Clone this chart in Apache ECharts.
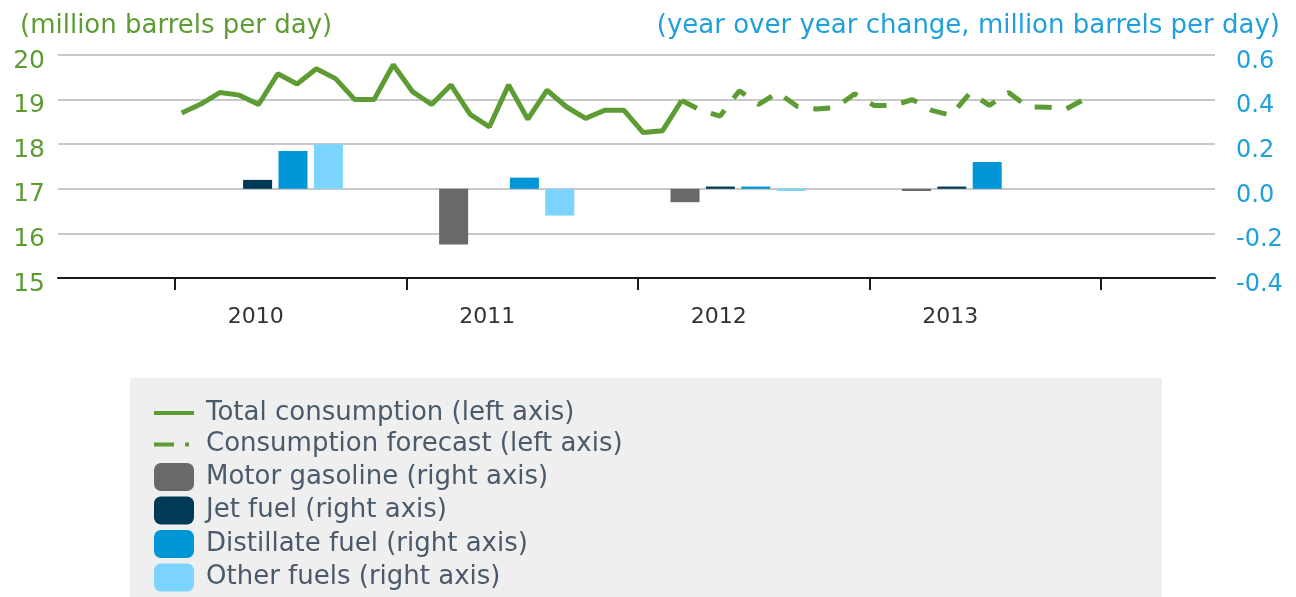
<!DOCTYPE html>
<html><head><meta charset="utf-8">
<script src="https://cdn.jsdelivr.net/npm/echarts@6/dist/echarts.min.js"></script>
<style>html,body{margin:0;padding:0;background:#fff}#c{width:1296px;height:597px}</style>
</head><body><div id="c"></div>
<script>
// ---- data ----
const years = ['2010', '2011', '2012', '2013'];
// monthly categories Jul 2009 .. Jun 2014 (axis span)
const monthCats = [];
for (let y = 2009; y <= 2014; y++) {
  for (let m = 1; m <= 12; m++) {
    if ((y === 2009 && m < 7) || (y === 2014 && m > 6)) continue;
    monthCats.push(y + '-' + String(m).padStart(2, '0'));
  }
}
// Total consumption, Jan 2010 - Mar 2012 (million b/d)
const totalConsumption = [18.70, 18.90, 19.16, 19.10, 18.89, 19.58, 19.35, 19.69, 19.47, 19.00, 19.00, 19.78,
  19.18, 18.89, 19.33, 18.67, 18.39, 19.33, 18.56, 19.21, 18.84, 18.58, 18.76, 18.76,
  18.26, 18.30, 18.98];
const totalStart = '2010-01';
// Consumption forecast, Mar 2012 - Dec 2013
const consumptionForecast = [18.98, 18.76, 18.63, 19.20, 18.89, 19.16, 18.85, 18.79, 18.82, 19.13,
  18.87, 18.87, 19.00, 18.76, 18.65, 19.15, 18.87, 19.16, 18.84, 18.83, 18.79, 19.02];
const forecastStart = '2012-03';
// Year-over-year change (million b/d)
const motorGasoline = [0, -0.25, -0.06, -0.01];
const jetFuel = [0.04, 0, 0.01, 0.01];
const distillateFuel = [0.17, 0.05, 0.01, 0.12];
const otherFuels = [0.20, -0.12, -0.01, 0];
const leftTicks = {min: 15, max: 20, interval: 1};
const rightTicks = {min: -0.4, max: 0.6, interval: 0.2};

function alignToMonths(values, start) {
  const s = monthCats.indexOf(start);
  return monthCats.map((c, i) => (i >= s && i - s < values.length) ? values[i - s] : null);
}

const FONT = 'DejaVu Sans';
const GREEN = '#5d9c33';
const BLUE = '#1fa0dc';
const NAMES = ['Total consumption (left axis)', 'Consumption forecast (left axis)', 'Motor gasoline (right axis)',
  'Jet fuel (right axis)', 'Distillate fuel (right axis)', 'Other fuels (right axis)'];

const chart = echarts.init(document.getElementById('c'), null, {renderer: 'canvas'});
const barCommon = {type: 'bar', xAxisIndex: 2, yAxisIndex: 3, barWidth: 29, barGap: '22%'};
chart.setOption({
  animation: false,
  backgroundColor: '#ffffff',
  textStyle: {fontFamily: FONT},
  title: [
    {text: '(million barrels per day)', left: 20, top: 13, padding: 0,
      textStyle: {fontSize: 26, fontWeight: 'normal', color: GREEN, fontFamily: FONT}},
    {text: '(year over year change, million barrels per day)', right: 16, top: 13, padding: 0,
      textStyle: {fontSize: 26, fontWeight: 'normal', color: BLUE, fontFamily: FONT}}
  ],
  graphic: [{type: 'rect', left: 130, top: 378, z: -10, shape: {width: 1032, height: 219}, style: {fill: '#efefef'}}],
  legend: {
    orient: 'vertical', left: 152, top: 400, padding: 0,
    itemWidth: 40, itemHeight: 28, itemGap: 5.5,
    textStyle: {fontSize: 26, color: '#4a5a6b', fontFamily: FONT, padding: [0, 0, 0, 7]},
    data: [
      {name: NAMES[0], itemStyle: {opacity: 0}, lineStyle: {width: 4, color: GREEN}},
      {name: NAMES[1], itemStyle: {opacity: 0}, lineStyle: {width: 4, color: GREEN, type: [20, 11, 4, 20]}},
      NAMES[2], NAMES[3], NAMES[4], NAMES[5]
    ]
  },
  grid: [
    {left: 58, right: 81, top: 55, bottom: 319},
    {left: 56.7, right: 85.5, top: 55, bottom: 319},
    {left: 159.6, right: 210.8, top: 55, bottom: 319},
    {left: 175, right: 195, top: 55, bottom: 319}
  ],
  xAxis: [
    {gridIndex: 0, type: 'category', data: monthCats, boundaryGap: true,
      axisLine: {show: true, onZero: false, lineStyle: {color: '#1a1a1a', width: 2}},
      axisTick: {show: false}, axisLabel: {show: false}, splitLine: {show: false}},
    {gridIndex: 1, type: 'category', data: monthCats, show: false, axisLine: {onZero: false}},
    {gridIndex: 2, type: 'category', data: years, show: false, axisLine: {onZero: false}},
    {gridIndex: 3, type: 'category', data: years, boundaryGap: true,
      axisLine: {show: false, onZero: false},
      axisTick: {show: true, length: 12, lineStyle: {color: '#1a1a1a', width: 2}},
      axisLabel: {fontSize: 22, color: '#333333', margin: 28, padding: [0, 70, 0, 0], fontFamily: FONT}}
  ],
  yAxis: [
    {gridIndex: 0, type: 'value', position: 'left', min: leftTicks.min, max: leftTicks.max, interval: leftTicks.interval,
      axisLine: {show: false}, axisTick: {show: false},
      axisLabel: {fontSize: 25, color: GREEN, margin: 13, verticalAlign: 'top', lineHeight: 12, fontFamily: FONT},
      splitLine: {show: true, lineStyle: {color: '#c8c8c8', width: 2}}},
    {gridIndex: 0, type: 'value', position: 'right', min: rightTicks.min, max: rightTicks.max, interval: rightTicks.interval,
      axisLine: {show: false}, axisTick: {show: false},
      axisLabel: {fontSize: 24, color: BLUE, margin: 21, verticalAlign: 'top', lineHeight: 13, fontFamily: FONT,
        formatter: v => v.toFixed(1)},
      splitLine: {show: false}},
    {gridIndex: 1, type: 'value', min: leftTicks.min, max: leftTicks.max, show: false},
    {gridIndex: 2, type: 'value', min: rightTicks.min, max: rightTicks.max, show: false},
    {gridIndex: 3, type: 'value', min: 0, max: 1, show: false}
  ],
  series: [
    Object.assign({name: NAMES[2], data: motorGasoline, itemStyle: {color: '#696969'}}, barCommon),
    Object.assign({name: NAMES[3], data: jetFuel, itemStyle: {color: '#003a57'}}, barCommon),
    Object.assign({name: NAMES[4], data: distillateFuel, itemStyle: {color: '#0096d8'}}, barCommon),
    Object.assign({name: NAMES[5], data: otherFuels, itemStyle: {color: '#7ad4fe'}}, barCommon),
    {name: NAMES[0], type: 'line', xAxisIndex: 1, yAxisIndex: 2, data: alignToMonths(totalConsumption, totalStart),
      symbol: 'none', connectNulls: false, z: 5,
      lineStyle: {color: GREEN, width: 5}, itemStyle: {color: GREEN}},
    {name: NAMES[1], type: 'line', xAxisIndex: 1, yAxisIndex: 2, data: alignToMonths(consumptionForecast, forecastStart),
      symbol: 'none', connectNulls: false, z: 5,
      lineStyle: {color: GREEN, width: 5, type: [17, 15]}, itemStyle: {color: GREEN}}
  ]
});
</script></body></html>
